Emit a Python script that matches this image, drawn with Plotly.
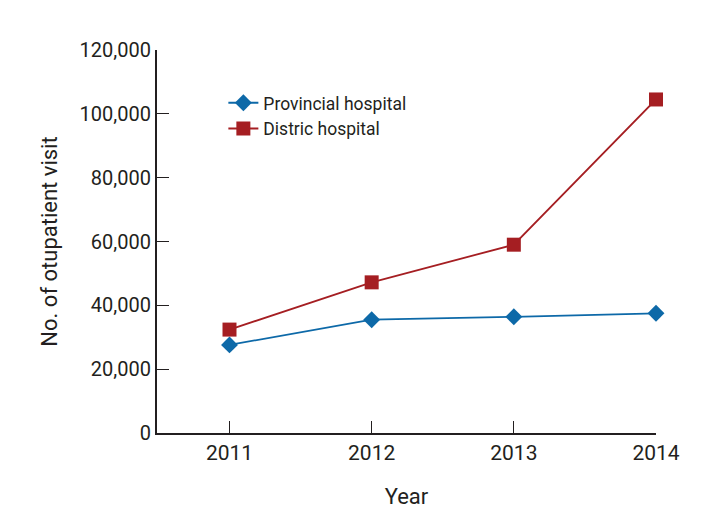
import plotly.graph_objects as go

years = [2011, 2012, 2013, 2014]
provincial = [27600, 35500, 36400, 37500]
district = [32400, 47200, 59000, 104500]
y_ticks = [0, 20000, 40000, 60000, 80000, 100000, 120000]
y_tick_labels = ["0", "20,000", "40,000", "60,000", "80,000", "100,000", "120,000"]

FONT = "Roboto, sans-serif"
BLUE = "#0d69a8"
RED = "#a51e22"

fig = go.Figure()
fig.add_trace(go.Scatter(
    x=years, y=provincial, name="Provincial hospital", mode="lines+markers",
    line=dict(color=BLUE, width=1.8),
    marker=dict(symbol="diamond", size=13, color=BLUE),
    cliponaxis=False,
))
fig.add_trace(go.Scatter(
    x=years, y=district, name="Distric hospital", mode="lines+markers",
    line=dict(color=RED, width=1.8),
    marker=dict(symbol="square", size=14, color=RED),
    cliponaxis=False,
))

fig.update_layout(
    width=726, height=531,
    margin=dict(l=149, r=78, t=42, b=106),
    paper_bgcolor="white", plot_bgcolor="white",
    font=dict(family=FONT, size=20, color="#231f20"),
    showlegend=True,
    legend=dict(x=0.133, y=0.909, xanchor="left", yanchor="top",
                font=dict(size=17.5, color="#231f20"), bgcolor="rgba(0,0,0,0)",
                tracegroupgap=2, itemwidth=30),
    xaxis=dict(
        range=[2010.49, 2014], tickvals=years, ticktext=[str(y) for y in years],
        tickfont=dict(size=21),
        showgrid=False, zeroline=False, showline=True, linecolor="#231f20", linewidth=2,
        ticks="inside", ticklen=12, tickwidth=1, tickcolor="#231f20",
        title=dict(text="Year", font=dict(size=22), standoff=24),
    ),
    yaxis=dict(
        range=[0, 120000], tickvals=y_ticks, ticktext=y_tick_labels,
        tickfont=dict(size=20),
        showgrid=False, zeroline=False, showline=True, linecolor="#231f20", linewidth=2,
        ticks="inside", ticklen=12, tickwidth=1, tickcolor="#231f20",
        title=dict(text="No. of otupatient visit", font=dict(size=22), standoff=16),
    ),
)

fig.write_html("out.html")
